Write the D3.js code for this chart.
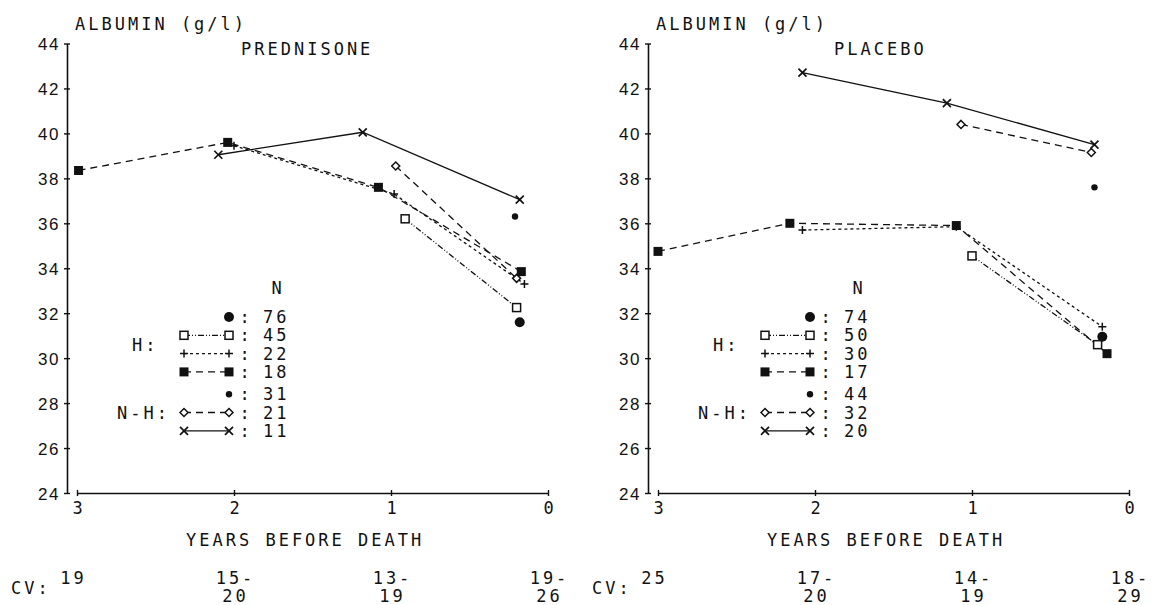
<!DOCTYPE html>
<html>
<head>
<meta charset="utf-8">
<script src="https://cdn.jsdelivr.net/npm/d3@7"></script>
<style>
body { margin: 0; background: #fff; }
text { font-family: "DejaVu Sans Mono", monospace; font-size: 17px; fill: #111; letter-spacing: 3px; }
.num { font-family: "Liberation Sans", Arial, sans-serif; letter-spacing: 1.5px; }
</style>
</head>
<body>
<svg id="chart" width="1152" height="605"></svg>
<script>
var yearTicks = [3, 2, 1, 0];
var albuminTicks = [24, 26, 28, 30, 32, 34, 36, 38, 40, 42, 44];

// prednisone, [years before death, albumin g/l]
var predHighCircle = [[0.18, 31.6]];
var predHighSquare = [[0.91, 36.2], [0.2, 32.25]];
var predHighPlus = [[2.0, 39.45], [0.98, 37.3], [0.15, 33.3]];
var predHighBlock = [[2.99, 38.35], [2.04, 39.6], [1.08, 37.6], [0.17, 33.85]];
var predNonDot = [[0.21, 36.3]];
var predNonDiamond = [[0.97, 38.55], [0.2, 33.55]];
var predNonCross = [[2.1, 39.05], [1.18, 40.05], [0.18, 37.05]];
var predN = [76, 45, 22, 18, 31, 21, 11];
var predCV = [["19", ""], ["15-", "20"], ["13-", "19"], ["19-", "26"]];

// placebo
var placHighCircle = [[0.17, 30.95]];
var placHighSquare = [[1.0, 34.55], [0.2, 30.6]];
var placHighPlus = [[2.08, 35.7], [1.1, 35.85], [0.17, 31.4]];
var placHighBlock = [[3.0, 34.75], [2.16, 36.0], [1.1, 35.9], [0.14, 30.2]];
var placNonDot = [[0.22, 37.6]];
var placNonDiamond = [[1.07, 40.4], [0.24, 39.15]];
var placNonCross = [[2.08, 42.7], [1.16, 41.35], [0.22, 39.5]];
var placN = [74, 50, 30, 17, 44, 32, 20];
var placCV = [["25", ""], ["17-", "20"], ["14-", "19"], ["18-", "29"]];

var kinds = ["circle", "square", "plus", "block", "dot", "diamond", "cross"];
var dashes = [null, "6,2,1,2,1,2", "3,3", "7,5", null, "7,5", null];

var svg = d3.select("#chart");

var x = d3.scaleLinear().domain([3, 0]).range([77, 548]);
var y = d3.scaleLinear().domain([24, 44]).range([493, 43.5]);
var line = d3.line().x(function(d){ return x(d[0]); }).y(function(d){ return y(d[1]); });

function marker(g, kind, px, py){
	switch(kind){
		case "circle":
			g.append("circle").attr("cx", px).attr("cy", py).attr("r", 5).attr("fill", "#111");
			break;
		case "dot":
			g.append("circle").attr("cx", px).attr("cy", py).attr("r", 3.2).attr("fill", "#111");
			break;
		case "square":
			g.append("rect").attr("x", px - 4).attr("y", py - 4).attr("width", 8).attr("height", 8)
				.attr("fill", "#fff").attr("stroke", "#111").attr("stroke-width", 1.5);
			break;
		case "block":
			g.append("rect").attr("x", px - 4.5).attr("y", py - 4.5).attr("width", 9).attr("height", 9).attr("fill", "#111");
			break;
		case "diamond":
			g.append("path").attr("d", "M" + px + "," + (py - 4) + "l4,4l-4,4l-4,-4z")
				.attr("fill", "#fff").attr("stroke", "#111").attr("stroke-width", 1.5);
			break;
		case "plus":
			g.append("path").attr("d", "M" + (px - 4) + "," + py + "h8M" + px + "," + (py - 4) + "v8")
				.attr("stroke", "#111").attr("stroke-width", 1.5);
			break;
		case "cross":
			g.append("path").attr("d", "M" + (px - 4) + "," + (py - 4) + "l8,8M" + (px - 4) + "," + (py + 4) + "l8,-8")
				.attr("stroke", "#111").attr("stroke-width", 1.7);
			break;
	}
}

function drawPanel(offsetX, title, series, counts, cv){
	var g = svg.append("g").attr("transform", "translate(" + offsetX + ",0)");

	// y axis
	var ya = g.append("g").attr("transform", "translate(67,0)")
		.call(d3.axisLeft(y).tickValues(albuminTicks).tickSizeOuter(0).tickPadding(7));
	ya.select(".domain").attr("stroke", "#111").attr("stroke-width", 1.6);
	ya.selectAll(".tick line").attr("x1", -3).attr("x2", 3).attr("stroke", "#111").attr("stroke-width", 1.4);
	ya.selectAll(".tick text").attr("class", "num").attr("font-size", null).attr("font-family", null)
		.attr("x", -7).attr("dy", "0.36em");

	// x axis
	var xa = g.append("g").attr("transform", "translate(0," + y(24) + ")")
		.call(d3.axisBottom(x).tickValues(yearTicks).tickFormat(d3.format("d")).tickSizeOuter(0));
	xa.select(".domain").attr("stroke", "#111").attr("stroke-width", 1.6);
	xa.selectAll(".tick line").attr("y1", -3).attr("y2", 3).attr("stroke", "#111").attr("stroke-width", 1.4);
	xa.selectAll(".tick text").attr("font-size", null).attr("font-family", null)
		.attr("x", 1.5).attr("y", 21).attr("dy", null);

	g.append("text").attr("x", 75).attr("y", 30).text("ALBUMIN (g/l)");
	g.append("text").attr("x", title == "PLACEBO" ? 253 : 241).attr("y", 55).text(title);
	g.append("text").attr("x", 186).attr("y", 546).text("YEARS BEFORE DEATH");

	// CV row
	g.append("text").attr("x", 11).attr("y", 594).text("CV:");
	cv.forEach(function(c, i){
		var cx = x(yearTicks[i]) + 1.5;
		if (i == 0) cx -= 5;
		g.append("text").attr("x", cx).attr("y", 584).attr("text-anchor", "middle").text(c[0]);
		if (c[1]) g.append("text").attr("x", cx).attr("y", 602).attr("text-anchor", "middle").text(c[1]);
	});

	// lines then markers
	series.forEach(function(s, i){
		if (s.length > 1){
			g.append("path").datum(s).attr("d", line).attr("fill", "none")
				.attr("stroke", "#111").attr("stroke-width", 1.3)
				.attr("stroke-dasharray", dashes[i]);
		}
	});
	series.forEach(function(s, i){
		s.forEach(function(d){ marker(g, kinds[i], x(d[0]), y(d[1])); });
	});

	// legend
	g.append("text").attr("x", 278).attr("y", 294).attr("text-anchor", "middle").text("N");
	g.append("text").attr("x", 132).attr("y", 351).text("H:");
	g.append("text").attr("x", 117).attr("y", 419).text("N-H:");
	counts.forEach(function(n, i){
		var ry = 317 + i * 18.3 + (i >= 4 ? 4 : 0);
		if (series[i].length > 1){
			g.append("line").attr("x1", 184).attr("x2", 229).attr("y1", ry).attr("y2", ry)
				.attr("stroke", "#111").attr("stroke-width", 1.3).attr("stroke-dasharray", dashes[i]);
			marker(g, kinds[i], 184, ry);
		}
		marker(g, kinds[i], 229, ry);
		g.append("text").attr("x", 246).attr("y", ry + 6).attr("text-anchor", "middle").text(":");
		g.append("text").attr("x", 263).attr("y", ry + 6).text(n);
	});
}

drawPanel(0, "PREDNISONE",
	[predHighCircle, predHighSquare, predHighPlus, predHighBlock, predNonDot, predNonDiamond, predNonCross],
	predN, predCV);
drawPanel(581, "PLACEBO",
	[placHighCircle, placHighSquare, placHighPlus, placHighBlock, placNonDot, placNonDiamond, placNonCross],
	placN, placCV);
</script>
</body>
</html>
